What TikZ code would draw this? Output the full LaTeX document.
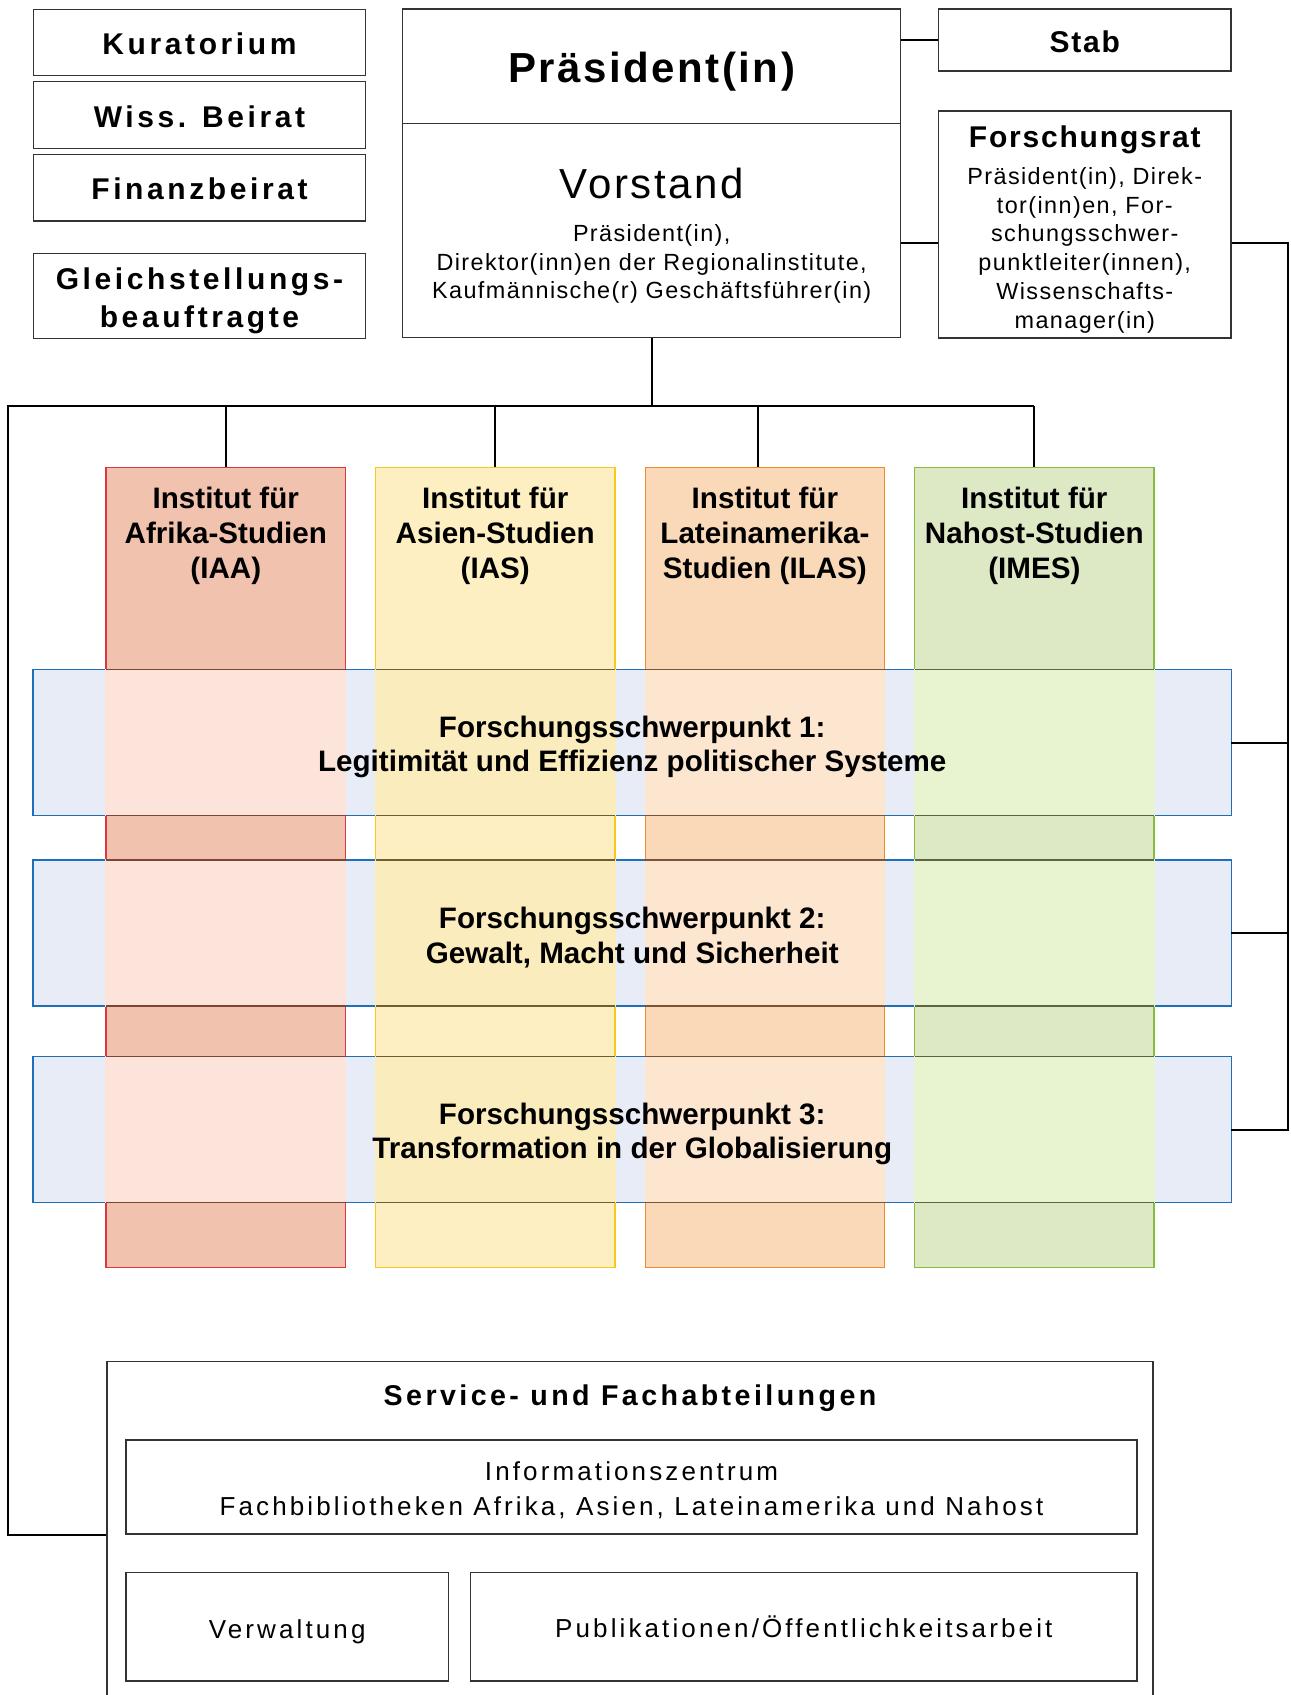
\documentclass[tikz,border=0pt]{standalone}
\usepackage{fontspec}
\setmainfont{Liberation Sans}
\newfontfamily\widefont[LetterSpace=12]{Liberation Sans}
\newfontfamily\semiwidefont[LetterSpace=6]{Liberation Sans}
\usetikzlibrary{positioning}
\pgfdeclarelayer{background}
\pgfdeclarelayer{foreground}
\pgfsetlayers{background,main,foreground}
\definecolor{boxgray}{HTML}{333333}
\definecolor{iaaFill}{HTML}{F1C3AE}
\definecolor{iaaLine}{HTML}{E0343E}
\definecolor{iaaOver}{HTML}{FDE4DB}
\definecolor{iaaEdge}{HTML}{7B4535}
\definecolor{iasFill}{HTML}{FDEFC1}
\definecolor{iasLine}{HTML}{F7C81E}
\definecolor{iasOver}{HTML}{FBECBE}
\definecolor{iasEdge}{HTML}{6E5E30}
\definecolor{ilasFill}{HTML}{FAD9B8}
\definecolor{ilasLine}{HTML}{F0892A}
\definecolor{ilasOver}{HTML}{FDE6CF}
\definecolor{ilasEdge}{HTML}{7A5535}
\definecolor{imesFill}{HTML}{DDE8C5}
\definecolor{imesLine}{HTML}{86BD3E}
\definecolor{imesOver}{HTML}{E7F4CF}
\definecolor{imesEdge}{HTML}{5A6640}
\definecolor{fspFill}{HTML}{E8ECF6}
\definecolor{fspLine}{HTML}{1E6FB9}

\begin{document}
\begin{tikzpicture}[
							x=0.5pt, y=-0.5pt,
							plainbox/.style={draw=boxgray, line width=0.65pt, inner sep=0pt, align=center},
							sidebox/.style={plainbox, minimum width=166pt, font=\widefont\bfseries\fontsize{15}{19.4}\selectfont},
							oneline/.style={text height=12.3pt, text depth=0pt},
							smalltext/.style={font=\semiwidefont\fontsize{11.7}{14.4}\selectfont},
							instbox/.style={inner sep=0pt, minimum width=119.3pt, minimum height=399.8pt},
							insttext/.style={inner sep=0pt, align=center, font=\bfseries\fontsize{14.8}{17.5}\selectfont},
							fspbox/.style={inner sep=0pt, minimum width=598.85pt, minimum height=72.5pt, align=center, font=\bfseries\fontsize{14.8}{17.3}\selectfont},
							servicetext/.style={font=\widefont\fontsize{13}{17.3}\selectfont},
							frame/.style={fill=#1Fill, draw=#1Line, line width=0.65pt},
							overlap/.style={fill=#1Over, draw=#1Over, line width=0.65pt},
							edge/.style={draw=#1Edge, line width=0.65pt},
							link/.style={draw=black, line width=1pt},
							]
							\useasboundingbox (0,0) rectangle (1290,1695);
							%Nodes
							\node[sidebox, oneline, minimum height=33pt]     (kuratorium) 	at	(199.5,42.7) 	{Kuratorium};
							\node[sidebox, oneline, minimum height=33.3pt]   (beirat) 	at	(199.5,115) 	{Wiss. Beirat};
							\node[sidebox, oneline, minimum height=33.3pt]   (finanz) 	at	(199.5,187.7) 	{Finanzbeirat};
							\node[sidebox, minimum height=42.5pt]   (gleich) 	at	(199.5,295.8) 	{\rule{0pt}{15.9pt}Gleichstellungs-\\beauftragte};
							
							\node[plainbox, minimum width=248.9pt, minimum height=57.15pt, text height=16.8pt, text depth=0pt, font=\semiwidefont\bfseries\fontsize{21}{25}\selectfont] (praesident) at (651.7,66.2) {Präsident(in)};
							\node[plainbox, minimum width=248.9pt, minimum height=107.2pt, smalltext] (vorstand) at (651.7,230.5) {{\fontsize{21}{25}\selectfont\rule{0pt}{20.7pt}Vorstand}\\[7pt]Präsident(in),\\Direktor(inn)en der Regionalinstitute,\\Kaufmännische(r) Geschäftsführer(in)};
							\node[plainbox, minimum width=146.25pt, minimum height=31pt, text height=12.7pt, text depth=0pt, font=\semiwidefont\bfseries\fontsize{15}{18}\selectfont] (stab) at (1084.75,40) {Stab};
							\node[plainbox, minimum width=146.25pt, minimum height=113.5pt, smalltext] (forschungsrat) at (1084.75,224.5) {{\bfseries\fontsize{15}{18}\selectfont\rule{0pt}{15.9pt}Forschungsrat}\\[3.9pt]Präsident(in), Direk-\\tor(inn)en, For-\\schungsschwer-\\punktleiter(innen),\\Wissenschafts-\\manager(in)};
							
							\node[instbox]      (iaa) 	at 	(225.8,867.5)   {};
							\node[instbox]      (ias) 	at 	(495.2,867.5)   {};
							\node[instbox]      (ilas) 	at 	(764.9,867.5)   {};
							\node[instbox]      (imes) 	at 	(1034.3,867.5)  {};
							\node[insttext, below=9.5pt of iaa.north]   (iaatext)  {Institut für\\Afrika-Studien\\(IAA)};
							\node[insttext, below=9.5pt of ias.north]   (iastext)  {Institut für\\Asien-Studien\\(IAS)};
							\node[insttext, below=9.5pt of ilas.north]  (ilastext) {Institut für\\Lateinamerika-\\Studien (ILAS)};
							\node[insttext, below=9.5pt of imes.north]  (imestext) {Institut für\\Nahost-Studien\\(IMES)};
							
							\node[fspbox]      (fsp1) 	at 	(632.2,742.5)   {\rule{0pt}{15.1pt}Forschungsschwerpunkt 1:\\Legitimität und Effizienz politischer Systeme};
							\node[fspbox]      (fsp2) 	at 	(632.2,933)     {\rule{0pt}{15.1pt}Forschungsschwerpunkt 2:\\Gewalt, Macht und Sicherheit};
							\node[fspbox]      (fsp3) 	at 	(632.2,1129.5)  {\rule{0pt}{15.1pt}Forschungsschwerpunkt 3:\\Transformation in der Globalisierung};
							
							\node[plainbox, minimum width=523pt, minimum height=179.15pt] (service) at (630,1540.85) {};
							\node[font=\widefont\bfseries\fontsize{14.3}{17}\selectfont] (servicetitle) at (630,1398.2) {Service- und Fachabteilungen};
							\node[plainbox, minimum width=505.5pt, minimum height=47pt, servicetext] (info) at (631.5,1487) {\rule{0pt}{12.7pt}Informationszentrum\\Fachbibliotheken Afrika, Asien, Lateinamerika und Nahost};
							\node[plainbox, minimum width=161.25pt, minimum height=54.35pt, text height=11.7pt, text depth=0pt, servicetext] (verwaltung) at (287.2,1626.7) {Verwaltung};
							\node[plainbox, minimum width=333.2pt, minimum height=54.35pt, servicetext] (publikation) at (803.8,1626.7) {Publikationen/Öffentlichkeitsarbeit};
							
							%Connectors
							\coordinate (lbus) at (7.5,406);
							\coordinate (rbus) at (1288,243);
							\draw[link] (vorstand.south) -- (vorstand.south |- lbus);
							\draw[link] (imes.north |- lbus) -- (lbus) |- (info.south -| service.west);
							\draw[link] (iaa.north |- lbus) -- (iaa.north);
							\draw[link] (ias.north |- lbus) -- (ias.north);
							\draw[link] ([xshift=-3.3pt]ilas.north |- lbus) -- ([xshift=-3.3pt]ilas.north);
							\draw[link] (imes.north |- lbus) -- (imes.north);
							\draw[link] (praesident.east |- stab.west) -- (stab.west);
							\draw[link] (vorstand.east |- rbus) -- (forschungsrat.west |- rbus);
							\draw[link] (forschungsrat.east |- rbus) -- (rbus) |- (fsp3.east);
							\draw[link] (fsp1.east) -- (fsp1.east -| rbus);
							\draw[link] (fsp2.east) -- (fsp2.east -| rbus);
							
							\begin{pgfonlayer}{background}
							
							\draw[frame=iaa] (iaa.north west) rectangle (iaa.south east);
							\draw[frame=ias] (ias.north west) rectangle (ias.south east);
							\draw[frame=ilas] (ilas.north west) rectangle (ilas.south east);
							\draw[frame=imes] (imes.north west) rectangle (imes.south east);
							
							\draw[frame=fsp] (fsp1.north west) rectangle (fsp1.south east);
							\draw[frame=fsp] (fsp2.north west) rectangle (fsp2.south east);
							\draw[frame=fsp] (fsp3.north west) rectangle (fsp3.south east);
							
							\draw[overlap=iaa] (iaa.west |- fsp1.north) rectangle (iaa.east |- fsp1.south);
							\draw[overlap=iaa] (iaa.west |- fsp2.north) rectangle (iaa.east |- fsp2.south);
							\draw[overlap=iaa] (iaa.west |- fsp3.north) rectangle (iaa.east |- fsp3.south);
							\draw[overlap=ias] (ias.west |- fsp1.north) rectangle (ias.east |- fsp1.south);
							\draw[overlap=ias] (ias.west |- fsp2.north) rectangle (ias.east |- fsp2.south);
							\draw[overlap=ias] (ias.west |- fsp3.north) rectangle (ias.east |- fsp3.south);
							\draw[overlap=ilas] (ilas.west |- fsp1.north) rectangle (ilas.east |- fsp1.south);
							\draw[overlap=ilas] (ilas.west |- fsp2.north) rectangle (ilas.east |- fsp2.south);
							\draw[overlap=ilas] (ilas.west |- fsp3.north) rectangle (ilas.east |- fsp3.south);
							\draw[overlap=imes] (imes.west |- fsp1.north) rectangle (imes.east |- fsp1.south);
							\draw[overlap=imes] (imes.west |- fsp2.north) rectangle (imes.east |- fsp2.south);
							\draw[overlap=imes] (imes.west |- fsp3.north) rectangle (imes.east |- fsp3.south);
							
							\draw[edge=iaa] (iaa.west |- fsp1.north) -- (iaa.east |- fsp1.north) (iaa.west |- fsp1.south) -- (iaa.east |- fsp1.south);
							\draw[edge=iaa] (iaa.west |- fsp2.north) -- (iaa.east |- fsp2.north) (iaa.west |- fsp2.south) -- (iaa.east |- fsp2.south);
							\draw[edge=iaa] (iaa.west |- fsp3.north) -- (iaa.east |- fsp3.north) (iaa.west |- fsp3.south) -- (iaa.east |- fsp3.south);
							\draw[edge=ias] (ias.west |- fsp1.north) -- (ias.east |- fsp1.north) (ias.west |- fsp1.south) -- (ias.east |- fsp1.south);
							\draw[edge=ias] (ias.west |- fsp2.north) -- (ias.east |- fsp2.north) (ias.west |- fsp2.south) -- (ias.east |- fsp2.south);
							\draw[edge=ias] (ias.west |- fsp3.north) -- (ias.east |- fsp3.north) (ias.west |- fsp3.south) -- (ias.east |- fsp3.south);
							\draw[edge=ilas] (ilas.west |- fsp1.north) -- (ilas.east |- fsp1.north) (ilas.west |- fsp1.south) -- (ilas.east |- fsp1.south);
							\draw[edge=ilas] (ilas.west |- fsp2.north) -- (ilas.east |- fsp2.north) (ilas.west |- fsp2.south) -- (ilas.east |- fsp2.south);
							\draw[edge=ilas] (ilas.west |- fsp3.north) -- (ilas.east |- fsp3.north) (ilas.west |- fsp3.south) -- (ilas.east |- fsp3.south);
							\draw[edge=imes] (imes.west |- fsp1.north) -- (imes.east |- fsp1.north) (imes.west |- fsp1.south) -- (imes.east |- fsp1.south);
							\draw[edge=imes] (imes.west |- fsp2.north) -- (imes.east |- fsp2.north) (imes.west |- fsp2.south) -- (imes.east |- fsp2.south);
							\draw[edge=imes] (imes.west |- fsp3.north) -- (imes.east |- fsp3.north) (imes.west |- fsp3.south) -- (imes.east |- fsp3.south);
							
							\end{pgfonlayer}
						\end{tikzpicture}
\end{document}
